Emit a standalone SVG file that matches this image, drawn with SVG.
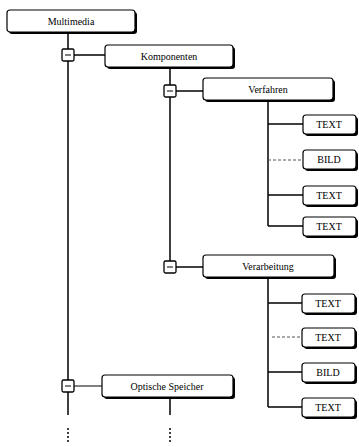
<svg xmlns="http://www.w3.org/2000/svg" width="359" height="447" viewBox="0 0 359 447">
<style>
.bg{fill:#ffffff}
.box{fill:#ffffff;stroke:#000;stroke-width:1.2}
.sh{fill:#000}
.sq{fill:#ffffff;stroke:#000;stroke-width:1.3}
.lbl{font-family:"Liberation Serif","Times New Roman",serif;font-size:10px;fill:#000;text-anchor:middle;dominant-baseline:central}
.ln{stroke:#000;stroke-width:1.5;fill:none}
.thin{stroke:#000;stroke-width:1;fill:none}
.dash{stroke:#555;stroke-width:1;fill:none;stroke-dasharray:3,2}
.dot{stroke:#000;stroke-width:1.5;fill:none;stroke-dasharray:2,2}
</style>
<rect class="bg" x="0" y="0" width="359" height="447"/>
<g id="connectors">
<line class="ln" x1="68" y1="32" x2="68" y2="415"/>
<line class="dot" x1="68" y1="428" x2="68" y2="444"/>
<line class="ln" x1="74" y1="55" x2="105" y2="55"/>
<line class="ln" x1="170" y1="67" x2="170" y2="267"/>
<line class="ln" x1="176" y1="91" x2="203" y2="91"/>
<line class="ln" x1="176" y1="267" x2="203" y2="267"/>
<line class="ln" x1="268" y1="100" x2="268" y2="226"/>
<line class="ln" x1="268" y1="124" x2="303" y2="124"/>
<line class="dash" x1="268" y1="160" x2="303" y2="160"/>
<line class="ln" x1="268" y1="195" x2="303" y2="195"/>
<line class="ln" x1="268" y1="226" x2="303" y2="226"/>
<line class="ln" x1="268" y1="277" x2="268" y2="407"/>
<line class="ln" x1="268" y1="303" x2="302" y2="303"/>
<line class="dash" x1="272" y1="337" x2="302" y2="337"/>
<line class="ln" x1="268" y1="372" x2="302" y2="372"/>
<line class="ln" x1="268" y1="407" x2="302" y2="407"/>
<line class="thin" x1="74" y1="386" x2="102" y2="386"/>
<line class="ln" x1="170" y1="397" x2="170" y2="415"/>
<line class="dot" x1="170" y1="428" x2="170" y2="444"/>
</g>
<g id="n-multimedia">
<rect class="sh" x="9" y="12" width="128" height="22" rx="3"/>
<rect class="box" x="7" y="10" width="128" height="22" rx="3"/>
<text class="lbl" x="71" y="21">Multimedia</text>
</g>
<g id="t-sq1"><rect class="sq" x="62" y="49" width="12" height="12" rx="1.5"/><line class="thin" x1="65" y1="55" x2="71" y2="55"/></g>
<g id="n-komponenten">
<rect class="sh" x="107" y="47" width="128" height="22" rx="3"/>
<rect class="box" x="105" y="45" width="128" height="22" rx="3"/>
<text class="lbl" x="169" y="56">Komponenten</text>
</g>
<g id="t-sq2"><rect class="sq" x="164" y="85" width="12" height="12" rx="1.5"/><line class="thin" x1="167" y1="91" x2="173" y2="91"/></g>
<g id="n-verfahren">
<rect class="sh" x="205" y="80" width="130" height="22" rx="3"/>
<rect class="box" x="203" y="78" width="130" height="22" rx="3"/>
<text class="lbl" x="268" y="89">Verfahren</text>
</g>
<g id="n-v1"><rect class="sh" x="305" y="117" width="53" height="19" rx="3"/><rect class="box" x="303" y="115" width="53" height="19" rx="3"/><text class="lbl" x="329" y="124.5">TEXT</text></g>
<g id="n-v2"><rect class="sh" x="305" y="152" width="53" height="19" rx="3"/><rect class="box" x="303" y="150" width="53" height="19" rx="3"/><text class="lbl" x="329" y="159.5">BILD</text></g>
<g id="n-v3"><rect class="sh" x="305" y="188" width="53" height="19" rx="3"/><rect class="box" x="303" y="186" width="53" height="19" rx="3"/><text class="lbl" x="329" y="195.5">TEXT</text></g>
<g id="n-v4"><rect class="sh" x="305" y="219" width="53" height="19" rx="3"/><rect class="box" x="303" y="217" width="53" height="19" rx="3"/><text class="lbl" x="329" y="226.5">TEXT</text></g>
<g id="t-sq3"><rect class="sq" x="164" y="261" width="12" height="12" rx="1.5"/><line class="thin" x1="167" y1="267" x2="173" y2="267"/></g>
<g id="n-verarbeitung">
<rect class="sh" x="205" y="257" width="131" height="22" rx="3"/>
<rect class="box" x="203" y="255" width="131" height="22" rx="3"/>
<text class="lbl" x="268" y="266">Verarbeitung</text>
</g>
<g id="n-w1"><rect class="sh" x="304" y="296" width="53" height="19" rx="3"/><rect class="box" x="302" y="294" width="53" height="19" rx="3"/><text class="lbl" x="328" y="303.5">TEXT</text></g>
<g id="n-w2"><rect class="sh" x="304" y="330" width="53" height="19" rx="3"/><rect class="box" x="302" y="328" width="53" height="19" rx="3"/><text class="lbl" x="328" y="337.5">TEXT</text></g>
<g id="n-w3"><rect class="sh" x="304" y="365" width="53" height="19" rx="3"/><rect class="box" x="302" y="363" width="53" height="19" rx="3"/><text class="lbl" x="328" y="372.5">BILD</text></g>
<g id="n-w4"><rect class="sh" x="304" y="400" width="53" height="19" rx="3"/><rect class="box" x="302" y="398" width="53" height="19" rx="3"/><text class="lbl" x="328" y="407.5">TEXT</text></g>
<g id="t-sq4"><rect class="sq" x="62" y="380" width="12" height="12" rx="1.5"/><line class="thin" x1="65" y1="386" x2="71" y2="386"/></g>
<g id="n-optische">
<rect class="sh" x="104" y="377" width="131" height="22" rx="3"/>
<rect class="box" x="102" y="375" width="131" height="22" rx="3"/>
<text class="lbl" x="167" y="386">Optische Speicher</text>
</g>
</svg>
